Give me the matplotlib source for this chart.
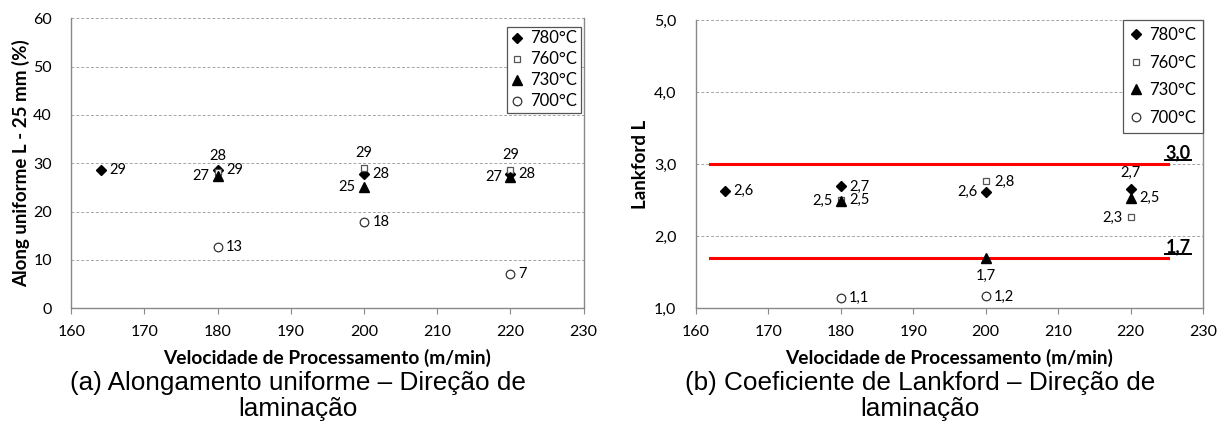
import matplotlib
matplotlib.use("Agg")
import matplotlib.pyplot as plt
from matplotlib.lines import Line2D

# ---------------- data ----------------
series = ["780°C", "760°C", "730°C", "700°C"]

# (a) Alongamento uniforme
a_x = {
    "780°C": [164, 180, 200, 220],
    "760°C": [180, 200, 220],
    "730°C": [180, 200, 220],
    "700°C": [180, 200, 220],
}
a_y = {
    "780°C": [28.6, 28.7, 27.7, 27.8],
    "760°C": [28.3, 29.0, 28.6],
    "730°C": [27.3, 25.0, 27.2],
    "700°C": [12.6, 17.9, 7.0],
}
# (b) Lankford
b_x = {
    "780°C": [164, 180, 200, 220],
    "760°C": [180, 200, 220],
    "730°C": [180, 200, 220],
    "700°C": [180, 200],
}
b_y = {
    "780°C": [2.625, 2.69, 2.61, 2.66],
    "760°C": [2.50, 2.76, 2.26],
    "730°C": [2.49, 1.70, 2.53],
    "700°C": [1.147, 1.165],
}
limits = [3.0, 1.7]
limit_x = [161.9, 225.2]

x_ticks = [160, 170, 180, 190, 200, 210, 220, 230]
a_yticks = [0, 10, 20, 30, 40, 50, 60]
b_yticks = [1.0, 2.0, 3.0, 4.0, 5.0]

xlabel = "Velocidade de Processamento (m/min)"
a_ylabel = "Along uniforme L - 25 mm (%)"
b_ylabel = "Lankford L"
a_caption = "(a) Alongamento uniforme – Direção de\nlaminação"
b_caption = "(b) Coeficiente de Lankford – Direção de\nlaminação"

# label placements (style)
a_pos = {
    "780°C": ["r", "r", "r", "r"],
    "760°C": ["t", "t", "t"],
    "730°C": ["l", "l", "l"],
    "700°C": ["r", "r", "r"],
}
b_pos = {
    "780°C": ["r", "r", "l", "t"],
    "760°C": ["r", "r", "l"],
    "730°C": ["l", "b", "r"],
    "700°C": ["r", "r"],
}

styles = {
    "780°C": dict(marker="D", ms=5.2, mfc="black", mec="black"),
    "760°C": dict(marker="s", ms=5.0, mfc="white", mec="#555555", mew=0.9),
    "730°C": dict(marker="^", ms=6.5, mfc="black", mec="black"),
    "700°C": dict(marker="o", ms=6.2, mfc="white", mec="#333333", mew=0.9),
}

FONT = ["Lato", "DejaVu Sans"]
plt.rcParams["font.family"] = FONT

W_PX, H_PX = 1223, 423
fig = plt.figure(figsize=(W_PX / 100, H_PX / 100), dpi=100)


def px_axes(l, r, t, b):
    return fig.add_axes([l / W_PX, 1 - b / H_PX, (r - l) / W_PX, (b - t) / H_PX])


axA = px_axes(71.3, 583.5, 18.3, 308.3)
axB = px_axes(696, 1203, 20, 308.3)

GRAY = "#898989"


def setup(ax, yticks, fmt):
    ax.set_xlim(160, 230)
    ax.set_ylim(yticks[0], yticks[-1])
    ax.set_xticks(x_ticks)
    ax.set_xticklabels([str(t) for t in x_ticks], fontsize=11.5)
    ax.set_yticks(yticks)
    ax.set_yticklabels([fmt(t) for t in yticks], fontsize=11.5)
    ax.spines["top"].set_visible(False)
    for k in ("left", "bottom", "right"):
        ax.spines[k].set_color(GRAY)
        ax.spines[k].set_linewidth(1.0)
    ax.tick_params(axis="x", direction="out", length=4, color=GRAY, pad=8)
    ax.tick_params(axis="y", length=0, pad=14)
    ax.grid(axis="y", color="#a6a6a6", linestyle=(0, (3, 2)), linewidth=0.7)
    ax.set_axisbelow(True)
    ax.set_xlabel(xlabel, fontsize=13.8, fontweight="bold")
    ax.xaxis.label.set_va("center")
    h = ax.get_position().height * H_PX
    ax.xaxis.set_label_coords(0.5, -(358 - 308.3) / h)


setup(axA, a_yticks, lambda v: f"{v:d}")
setup(axB, b_yticks, lambda v: f"{v:.1f}".replace(".", ","))
axA.set_ylabel(a_ylabel, fontsize=13.5, fontweight="bold", va="center")
axA.yaxis.set_label_coords(-(71.3 - 21) / 512.2, 0.5)
axB.set_ylabel(b_ylabel, fontsize=13.5, fontweight="bold", va="center")
axB.yaxis.set_label_coords(-(696 - 640) / 507, 0.5)

OFF = {"r": (6, 0, "left", "center"), "l": (-6, 0, "right", "center"),
       "t": (0, 6, "center", "bottom"), "b": (0, -8, "center", "top")}


def draw(ax, xs, ys, pos, fmt, fs):
    handles = []
    for s in series:
        h, = ax.plot(xs[s], ys[s], linestyle="none", label=s, **styles[s], zorder=3)
        handles.append(h)
        for i, (x, y) in enumerate(zip(xs[s], ys[s])):
            dx, dy, ha, va = OFF[pos[s][i]]
            ax.annotate(fmt(y), (x, y), xytext=(dx, dy), textcoords="offset points",
                        ha=ha, va=va, fontsize=fs, zorder=4)
    return handles


hA = draw(axA, a_x, a_y, a_pos, lambda v: f"{v:.0f}", 10.5)
hB = draw(axB, b_x, b_y, b_pos, lambda v: f"{v:.1f}".replace(".", ","), 10.5)

for lv in limits:
    axB.plot(limit_x, [lv, lv], color="#ff0000", linewidth=2.2, zorder=2)

legA = axA.legend(handles=hA, loc="upper right",
                  bbox_to_anchor=(1 - 3 / 512.2, 1 - 8.5 / 290), fontsize=12,
                  frameon=True, fancybox=False, edgecolor="#555555", handlelength=0.7,
                  handletextpad=0.45, labelspacing=0.3, borderpad=0.22,
                  borderaxespad=0.0, framealpha=1)
legA.get_frame().set_linewidth(0.9)
legB = axB.legend(handles=hB, loc="upper right", bbox_to_anchor=(1.0, 1.0), fontsize=12,
                  frameon=True, fancybox=False, edgecolor="#555555", handlelength=0.7,
                  handletextpad=0.45, labelspacing=0.7, borderpad=0.42,
                  borderaxespad=0.0, framealpha=1)
legB.get_frame().set_linewidth(0.9)

limit_texts = []
for lv in limits:
    t = axB.annotate(f"{lv:.1f}".replace(".", ","), (limit_x[1], lv), xytext=(-2, 2),
                     textcoords="offset points", ha="left", va="bottom",
                     fontsize=13, fontweight="bold", zorder=5)
    limit_texts.append(t)

cap_y = 1 - 396 / H_PX
fig.text(297.5 / W_PX, cap_y, a_caption, ha="center", va="center", fontsize=18.8,
         family=["Liberation Sans", "DejaVu Sans"], linespacing=1.12)
fig.text(920 / W_PX, cap_y, b_caption, ha="center", va="center", fontsize=18.8,
         family=["Liberation Sans", "DejaVu Sans"], linespacing=1.12)

fig.canvas.draw()
for t in limit_texts:
    bb = t.get_window_extent()
    W, H = fig.bbox.width, fig.bbox.height
    yline = (bb.y0 + 1) / H
    fig.add_artist(Line2D([bb.x0 / W, bb.x1 / W], [yline, yline], color="black",
                          linewidth=1.4, transform=fig.transFigure))

fig.savefig("out.png", dpi=100)
